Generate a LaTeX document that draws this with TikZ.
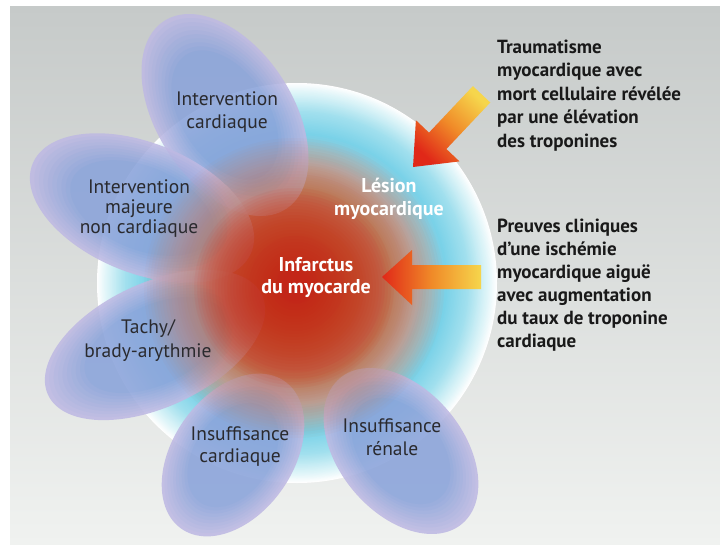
\documentclass[tikz,border=0pt]{standalone}
\usepackage{fontspec}
\setmainfont{PT Sans}

% palette
\definecolor{bgtop}{HTML}{C6CAC9}
\definecolor{bgbot}{HTML}{F0F2F0}
\definecolor{discA}{HTML}{C44A38}
\definecolor{discB}{HTML}{BC8A80}
\definecolor{discC}{HTML}{AEBCC8}
\definecolor{discD}{HTML}{7AD2E8}
\definecolor{discE}{HTML}{A2E0EE}
\definecolor{discF}{HTML}{DCF4F8}
\definecolor{glowred}{HTML}{D22618}
\definecolor{gloworange}{HTML}{D8703A}
\definecolor{petalin}{HTML}{8AA3DA}
\definecolor{petalout}{HTML}{BEB9E3}
\definecolor{inktext}{HTML}{2A2A2E}
\definecolor{arrowred}{HTML}{E02818}
\definecolor{arroworange}{HTML}{F08A28}
\definecolor{arrowyellow}{HTML}{F6D64C}

\newcommand\blockc[1]{\begin{tabular}[t]{@{}c@{}}#1\end{tabular}}
\newcommand\blockl[1]{\begin{tabular}[t]{@{}l@{}}#1\end{tabular}}

% a soft petal: nested ellipses from lavender rim to blue heart
% #1 centre, #2 angle, #3 x radius, #4 y radius
\newcommand\petalshape[4]{%
  \begin{scope}[transparency group, opacity=0.88]
    \foreach \i in {0,...,12}{
      \pgfmathsetmacro\rx{#3*(1-0.04*\i)}
      \pgfmathsetmacro\ry{#4*(1-0.04*\i)}
      \pgfmathtruncatemacro\pp{min(100,\i*100/9)}
      \fill[petalin!\pp!petalout, rotate around={#2:#1}] #1 ellipse [x radius=\rx, y radius=\ry];
    }
  \end{scope}}

\tikzset{
  petaltext/.style={inner sep=0pt, anchor=base, text=inktext},
  coretext/.style={inner sep=0pt, anchor=base, text=white,
    font=\bfseries\fontsize{20}{23}\selectfont},
  sidetext/.style={inner sep=0pt, anchor=base west, text=black!90,
    font=\bfseries\fontsize{19}{23.5}\selectfont},
  blockarrow/.style={bottom color=arrowred, top color=arrowyellow,
    middle color=arroworange},
}

\begin{document}
\begin{tikzpicture}[x=1pt, y=-1pt]
\useasboundingbox (0,0) rectangle (720,544);
\fill[white] (0,0) rectangle (720,544);
% paper background
\shade[top color=bgtop, bottom color=bgbot] (10,6) rectangle (720,544);

% glowing disc, built from concentric rings
\coordinate (disc) at (297,283);
\coordinate (core) at (294,288);
\foreach \ra/\rb/\ca/\cb in {200/190/white/discF, 190/172/discF/discE,
    172/150/discE/discD, 150/122/discD/discC, 122/95/discC/discB,
    95/0/discB/discA}{
  \foreach \i in {0,...,13}{
    \pgfmathsetmacro\rr{\ra-(\ra-\rb)*\i/14}
    \pgfmathtruncatemacro\pp{\i*100/14}
    \fill[\cb!\pp!\ca] (disc) circle [radius=\rr];
  }
}

% petals
\petalshape{(225,115)}{-57}{112}{68}
\petalshape{(142,208)}{-22}{118}{65}
\petalshape{(155,345)}{25}{118}{62}
\petalshape{(233,455)}{55}{90}{60}
\petalshape{(401,451)}{-50}{95}{62}

% infarct core: stacked translucent discs
\foreach \r in {150,147,...,40}
  \fill[gloworange, fill opacity=0.035] (core) circle [radius=\r];
\foreach \r in {100,97,...,4}
  \fill[glowred, fill opacity=0.06] (core) circle [radius=\r];

% block arrows
\coordinate (tipA) at (413,167);
\coordinate (tipB) at (382,277);
\shade[blockarrow, shading angle=-43.3]
  (tipA) -- (459.5,161.4) -- (446.4,149.0) -- (490.3,102.5)
  -- (472.9,86.1) -- (429.0,132.6) -- (415.9,120.2) -- cycle;
\shade[left color=arrowred, right color=arrowyellow, middle color=arroworange]
  (tipB) -- (412,250) -- (412,265) -- (481,265) -- (481,289)
  -- (412,289) -- (412,305) -- cycle;

% petal labels
\node[petaltext, font=\fontsize{19.5}{23}\selectfont] (p1) at (227,105)
  {\blockc{Intervention\\cardiaque}};
\node[petaltext, font=\fontsize{19.5}{20}\selectfont] (p2) at (139,193)
  {\blockc{Intervention\\majeure\\non cardiaque}};
\node[petaltext, font=\fontsize{19.5}{24}\selectfont] (p3) at (148,333)
  {\blockc{Tachy/\\brady-arythmie}};
\node[petaltext, font=\fontsize{19.5}{22}\selectfont] (p4) at (240,440)
  {\blockc{Insuffisance\\cardiaque}};
\node[petaltext, font=\fontsize{19.5}{23}\selectfont] (p5) at (392,432)
  {\blockc{Insuffisance\\rénale}};

% core labels
\node[coretext] (lesion) at (389,192)
  {\blockc{Lésion\\myocardique}};
\node[coretext, font=\bfseries\fontsize{20}{22}\selectfont] (infarct) at (316,271)
  {\blockc{Infarctus\\du myocarde}};

% side notes
\node[sidetext] (trauma) at (497,53)
  {\blockl{Traumatisme\\myocardique avec\\mort cellulaire révélée\\par une élévation\\des troponines}};
\node[sidetext, font=\bfseries\fontsize{19}{23}\selectfont] (clinic) at (497,232)
  {\blockl{Preuves cliniques\\d’une ischémie\\myocardique aiguë\\avec augmentation\\du taux de troponine\\cardiaque}};
\end{tikzpicture}
\end{document}
